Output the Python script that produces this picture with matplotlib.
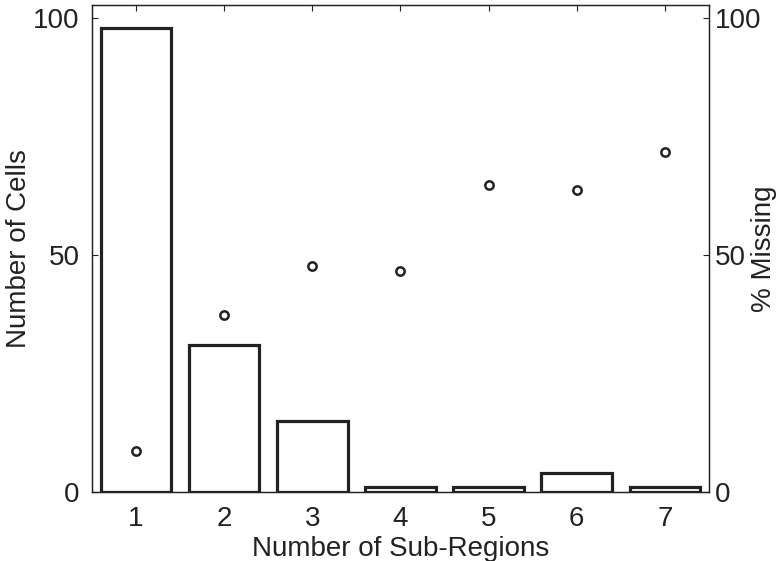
import numpy as np
import matplotlib
matplotlib.use("Agg")
from matplotlib import pyplot as plt

plt.rcParams['font.family'] = ['Liberation Sans', 'DejaVu Sans']

sub_regions = [1, 2, 3, 4, 5, 6, 7]
num_cells = [98, 31, 15, 1, 1, 4, 1]
pct_missing = [8.7, 37.3, 47.7, 46.6, 64.8, 63.7, 71.7]
ink = '#222222'
fs = 20

fig = plt.figure(figsize=(7.84, 5.61), dpi=100)
ax = fig.add_axes([0.1173, 0.123, 0.787, 0.868])
ax.bar(sub_regions, num_cells, width=0.8, facecolor='white', edgecolor=ink, linewidth=2.3, zorder=2)
ax.set_xlim(0.5, 7.5)
ax.set_ylim(0, 102.8)
ax.set_xticks(sub_regions)
ax.set_yticks([0, 50, 100])
ax.tick_params(direction='in', length=4, width=0.8, colors=ink, labelsize=fs, top=True)
ax.tick_params(axis='x', pad=10)
ax.tick_params(axis='y', pad=9)
ax.set_xlabel("Number of Sub-Regions", fontsize=fs, color=ink, labelpad=3)
ax.set_ylabel("Number of Cells", fontsize=fs, color=ink, labelpad=1)

ax2 = ax.twinx()
ax2.plot(sub_regions, pct_missing, 'o', markersize=6, markerfacecolor='none', markeredgecolor=ink, markeredgewidth=1.8)
ax2.set_ylim(0, 102.8)
ax2.set_yticks([0, 50, 100])
ax2.tick_params(direction='in', length=4, width=0.8, colors=ink, labelsize=fs, pad=4)
ax2.set_ylabel("% Missing", fontsize=fs, color=ink)
ax2.yaxis.set_label_coords(1.068, 0.5)

for a in (ax, ax2):
    for s in a.spines.values():
        s.set_color(ink)
        s.set_linewidth(0.9)

fig.savefig("out.png", dpi=100)
